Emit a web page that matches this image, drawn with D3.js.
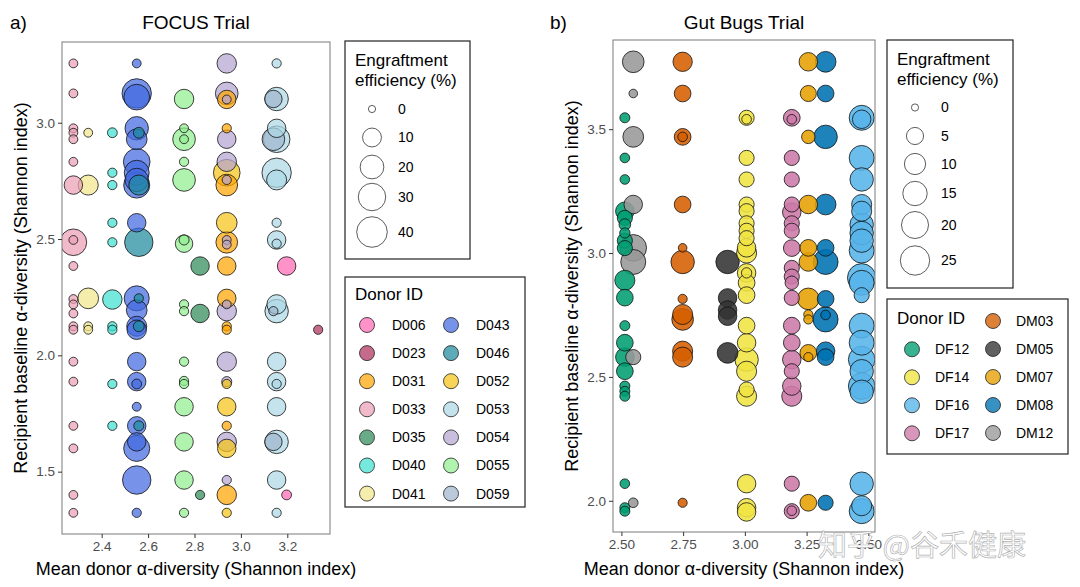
<!DOCTYPE html>
<html lang="en">
<head>
<meta charset="UTF-8">
<title>Engraftment efficiency vs alpha diversity</title>
<script src="https://d3js.org/d3.v7.min.js"></script>
<style>
  body { margin: 0; background: #fff; }
  svg { font-family: "Liberation Sans", Arial, sans-serif; }
  .tick text { fill: #4d4d4d; font-size: 13.5px; }
  .tick line { stroke: #333; }
</style>
</head>
<body>
<div id="chart"></div>
<script>
// ---------- panel a: FOCUS trial ----------
const focusDonors = ["D006", "D023", "D031", "D033", "D035", "D040", "D041",
                     "D043", "D046", "D052", "D053", "D054", "D055", "D059"];
const focusColors = ["#ff69b4", "#b03060", "#ffa500", "#eb9fb6", "#2e8b57", "#40e0d0", "#f0e68c",
                     "#4169e1", "#1f8a9e", "#f5c518", "#add8e6", "#b5a5d3", "#90ee90", "#9fb6cd"];
// mean donor alpha-diversity per donor (x position)
const focusDonorX = [3.197, 3.333, 2.939, 2.278, 2.824, 2.446, 2.342,
                     2.551, 2.560, 2.939, 3.154, 2.939, 2.755, 3.140];
// [recipient baseline diversity, engraftment efficiency %]
const focus_D006 = [[2.384, 9.3], [1.40, 0.5]];
const focus_D023 = [[2.11, 0.3]];
const focus_D031 = [[3.10, 9.3], [2.976, 0.3], [2.732, 15.3], [2.486, 15.3], [2.384, 9.3], [2.245, 9.3],
                    [2.125, 0.3], [2.11, 0.3], [1.697, 0.3], [1.40, 11]];
const focus_D033 = [[3.255, 0.2], [3.126, 0.2], [2.976, 0.2], [2.957, 0.2], [2.929, 0.2], [2.832, 0.2],
                    [2.732, 9.3], [2.486, 27.6], [2.496, 0.2], [2.384, 0.2], [2.242, 0.2], [2.219, 0.2],
                    [2.18, 0.2], [2.125, 0.2], [2.11, 0.2], [1.973, 0.2], [1.887, 0.2], [1.697, 0.2],
                    [1.60, 0.2], [1.40, 0.2], [1.323, 0.2]];
const focus_D035 = [[2.384, 9.3], [2.18, 9.3], [1.40, 0.3]];
const focus_D040 = [[2.957, 0.5], [2.785, 0.3], [2.732, 0.3], [2.57, 0.3], [2.486, 0.3], [2.24, 11],
                    [2.125, 0.3], [2.11, 0.3], [1.877, 0.3], [1.697, 0.3]];
const focus_D041 = [[2.957, 0.2], [2.732, 12.1], [2.245, 13.3], [2.125, 0.2], [2.11, 0.2]];
const focus_D043 = [[3.255, 0.2], [3.126, 36], [3.11, 25], [2.976, 19.3], [2.929, 13.3], [2.832, 27.6],
                    [2.785, 23], [2.754, 19], [2.732, 26], [2.57, 9.3], [2.245, 23.3], [2.194, 13.3],
                    [2.125, 12], [2.11, 11], [1.973, 9.3], [1.887, 9.3], [1.877, 0.5], [1.779, 0.2],
                    [1.697, 9.3], [1.628, 9.3], [1.60, 26], [1.464, 33], [1.323, 0.3]];
const focus_D046 = [[2.957, 1], [2.732, 12.1], [2.486, 32.9], [2.245, 0.3], [2.125, 1], [1.697, 0.6]];
const focus_D052 = [[2.785, 27.6], [2.57, 13.3], [1.877, 0.3], [1.779, 9.3], [1.60, 9.3], [1.323, 0.3]];
const focus_D053 = [[3.255, 0.3], [3.102, 19.3], [2.976, 9.3], [2.929, 27.6], [2.785, 36], [2.754, 12],
                    [2.57, 0.3], [2.496, 9.3], [2.48, 0.3], [2.219, 11], [2.19, 19.3], [1.973, 9.3],
                    [1.887, 9.3], [1.877, 0.3], [1.779, 9.3], [1.628, 19.3], [1.464, 9.3], [1.323, 0.3]];
const focus_D054 = [[3.255, 11], [3.126, 17.5], [3.10, 0.2], [2.929, 9.3], [2.832, 11], [2.754, 0.3],
                    [2.496, 0.2], [2.476, 0.2], [2.219, 0.2], [2.19, 11], [1.973, 11], [1.887, 0.6],
                    [1.628, 11], [1.464, 0.3]];
const focus_D055 = [[3.102, 11], [2.976, 0.2], [2.929, 17.5], [2.929, 0.2], [2.832, 0.3], [2.754, 17.5],
                    [2.496, 0.6], [2.48, 7.7], [2.219, 0.3], [2.19, 0.3], [1.973, 0.3], [1.89, 0.3],
                    [1.877, 0.3], [1.779, 9.3], [1.628, 9.3], [1.464, 9.3], [1.323, 0.3]];
const focus_D059 = [[3.102, 7.7], [2.929, 17.5], [2.19, 0.3], [1.628, 7.7]];
const focusSeries = [focus_D006, focus_D023, focus_D031, focus_D033, focus_D035, focus_D040, focus_D041,
                     focus_D043, focus_D046, focus_D052, focus_D053, focus_D054, focus_D055, focus_D059];
const focusXTicks = [2.4, 2.6, 2.8, 3.0, 3.2];
const focusYTicks = [1.5, 2.0, 2.5, 3.0];
const focusSizeBreaks = [0, 10, 20, 30, 40];

// ---------- panel b: Gut Bugs trial ----------
const gbDonors = ["DF12", "DF14", "DF16", "DF17", "DM03", "DM05", "DM07", "DM08", "DM12"];
const gbColors = ["#009e73", "#f0e442", "#56b4e9", "#cc79a7", "#d55e00", "#333333", "#e69f00", "#0072b2", "#999999"];
const gbDonorX = [2.514, 3.007, 3.473, 3.19, 2.748, 2.93, 3.257, 3.327, 2.548];
const gb_DF12 = [[3.546, 0.4], [3.384, 0.3], [3.297, 0.3], [3.169, 6.5], [3.142, 3.2], [3.115, 1], [3.081, 0.5],
                 [3.05, 3.2], [3.02, 3.2], [2.89, 8.4], [2.82, 4.6], [2.707, 0.4], [2.638, 4.6], [2.58, 6.5],
                 [2.523, 4.6], [2.463, 0.4], [2.442, 0.4], [2.422, 0.4], [2.069, 0.3], [1.972, 0.4], [1.958, 0.4]];
const gb_DF14 = [[3.546, 3.2], [3.54, 0.3], [3.384, 3.2], [3.297, 3.2], [3.196, 3.2], [3.169, 3.2], [3.12, 3.2],
                 [3.09, 3.2], [3.06, 3.2], [3.021, 6.5], [3.0, 8.4], [2.92, 6.5], [2.92, 0.5], [2.88, 4.6],
                 [2.83, 4.6], [2.707, 4.6], [2.638, 6.5], [2.57, 13.4], [2.523, 8.4], [2.449, 3.2], [2.422, 8.4],
                 [2.069, 6.5], [1.972, 6.5], [1.955, 6.5]];
const gb_DF16 = [[3.546, 16], [3.54, 6.5], [3.384, 16], [3.297, 13.4], [3.196, 8.4], [3.169, 8.4], [3.115, 13.4],
                 [3.081, 13.4], [3.05, 13.4], [3.01, 16], [2.90, 22.8], [2.88, 16], [2.83, 3.2], [2.707, 16],
                 [2.638, 16], [2.57, 19], [2.523, 13.4], [2.463, 19], [2.44, 13.4], [2.069, 13.4], [1.98, 8.4],
                 [1.958, 16]];
const gb_DF17 = [[3.546, 4.6], [3.54, 0.3], [3.384, 3.2], [3.297, 3.2], [3.196, 3.2], [3.165, 6.5], [3.12, 3.2],
                 [3.09, 3.2], [3.02, 4.6], [2.94, 3.2], [2.905, 3.2], [2.88, 2], [2.819, 3.2], [2.707, 4.6],
                 [2.638, 4.6], [2.57, 6.5], [2.523, 3.2], [2.463, 6.5], [2.422, 8.4], [2.069, 3.2],
                 [1.958, 3.2], [1.96, 0.3]];
const gb_DM03 = [[3.772, 7.5], [3.644, 4.6], [3.469, 4.6], [3.469, 0.3], [3.196, 4.6], [3.021, 0.1], [2.964, 13.4],
                 [2.815, 0.2], [2.752, 8.4], [2.732, 10.6], [2.604, 8.4], [2.58, 8.4], [1.992, 0.2]];
const gb_DM05 = [[2.964, 13.4], [2.819, 6.5], [2.77, 6.5], [2.745, 6.5], [2.597, 9.3]];
const gb_DM07 = [[3.772, 6.5], [3.644, 4], [3.469, 2], [3.196, 6.5], [3.021, 4.6], [2.964, 6.5], [2.815, 10.6],
                 [2.752, 0.2], [2.732, 0.2], [2.597, 4.6], [2.58, 0.2], [1.992, 4.6]];
const gb_DM08 = [[3.772, 9.3], [3.644, 4.6], [3.469, 13.4], [3.196, 9.3], [3.021, 4.6], [2.964, 16], [2.815, 4.6],
                 [2.732, 16], [2.75, 0.3], [2.604, 6.5], [2.58, 4.6], [1.992, 3.2]];
const gb_DM12 = [[3.772, 10.6], [3.644, 0.1], [3.469, 9.3], [3.196, 6.5], [3.021, 19], [2.964, 16], [2.58, 3.2],
                 [1.992, 0.3]];
const gbSeries = [gb_DF12, gb_DF14, gb_DF16, gb_DF17, gb_DM03, gb_DM05, gb_DM07, gb_DM08, gb_DM12];
const gbXTicks = [2.50, 2.75, 3.00, 3.25, 3.50];
const gbYTicks = [2.0, 2.5, 3.0, 3.5];
const gbSizeBreaks = [0, 5, 10, 15, 20, 25];

const W = 1080, H = 587;
const svg = d3.select("#chart").append("svg")
    .attr("width", W).attr("height", H);

function drawPanel(p) {
    const x = d3.scaleLinear().domain(p.xDomain).range([p.left, p.right]);
    const y = d3.scaleLinear().domain(p.yDomain).range([p.bottom, p.top]);
    const r = d3.scaleSqrt().domain([0, p.sizeMax]).range([3.6, p.rMax]);
    const color = d3.scaleOrdinal().domain(p.donors).range(p.colors);

    // flatten points, biggest first so small ones stay visible
    const pts = [];
    p.series.forEach((s, i) => s.forEach(d => pts.push({donor: p.donors[i], dx: p.donorX[i], base: d[0], eff: d[1]})));
    pts.sort((a, b) => b.eff - a.eff);

    const clipId = "clip-" + p.id;
    svg.append("clipPath").attr("id", clipId)
        .append("rect")
        .attr("x", p.left).attr("y", p.top)
        .attr("width", p.right - p.left).attr("height", p.bottom - p.top);

    svg.append("g").attr("clip-path", `url(#${clipId})`)
        .selectAll("circle")
        .data(pts)
        .join("circle")
        .attr("cx", d => x(d.dx))
        .attr("cy", d => y(d.base))
        .attr("r", d => r(d.eff))
        .attr("fill", d => color(d.donor))
        .attr("fill-opacity", p.alpha)
        .attr("stroke", "#111")
        .attr("stroke-width", 0.8);

    // panel border
    svg.append("rect")
        .attr("x", p.left).attr("y", p.top)
        .attr("width", p.right - p.left).attr("height", p.bottom - p.top)
        .attr("fill", "none").attr("stroke", "#7a7a7a").attr("stroke-width", 1);

    // axes
    const xAxis = svg.append("g")
        .attr("transform", `translate(0,${p.bottom})`)
        .call(d3.axisBottom(x).tickValues(p.xTicks).tickSize(4).tickPadding(3).tickFormat(d3.format(p.xFmt)));
    xAxis.select(".domain").remove();
    const yAxis = svg.append("g")
        .attr("transform", `translate(${p.left},0)`)
        .call(d3.axisLeft(y).tickValues(p.yTicks).tickSize(4).tickPadding(3).tickFormat(d3.format(".1f")));
    yAxis.select(".domain").remove();
    svg.selectAll(".tick text").attr("font-family", null);

    // titles
    svg.append("text").attr("x", p.tagX).attr("y", 29)
        .attr("font-size", 19).attr("fill", "#000").text(p.tag);
    svg.append("text").attr("x", (p.left + p.right) / 2).attr("y", 29)
        .attr("text-anchor", "middle").attr("font-size", 19).attr("fill", "#000").text(p.title);
    svg.append("text").attr("x", (p.left + p.right) / 2).attr("y", 575)
        .attr("text-anchor", "middle").attr("font-size", 18).attr("fill", "#000")
        .text("Mean donor α-diversity (Shannon index)");
    svg.append("text")
        .attr("transform", `translate(${p.yTitleX},${(p.top + p.bottom) / 2}) rotate(-90)`)
        .attr("text-anchor", "middle").attr("font-size", 18).attr("fill", "#000")
        .text("Recipient baseline α-diversity (Shannon index)");

    // size legend
    const sl = p.sizeLegend;
    svg.append("rect").attr("x", sl.x0).attr("y", sl.y0).attr("width", sl.w).attr("height", sl.h)
        .attr("fill", "#fff").attr("stroke", "#222").attr("stroke-width", 1.2);
    const st = svg.append("text").attr("x", sl.x0 + 10).attr("y", sl.y0 + 25)
        .attr("font-size", 17).attr("fill", "#000");
    st.append("tspan").text("Engraftment");
    st.append("tspan").attr("x", sl.x0 + 10).attr("dy", 19.5).text("efficiency (%)");
    const sItems = svg.append("g").selectAll("g")
        .data(p.sizeBreaks).join("g")
        .attr("transform", (d, i) => `translate(0,${sl.rows[i]})`);
    sItems.append("circle").attr("cx", sl.cx).attr("r", d => r(d))
        .attr("fill", "#fff").attr("stroke", "#333").attr("stroke-width", 0.8);
    sItems.append("text").attr("x", sl.tx).attr("dy", "0.35em")
        .attr("font-size", 14).attr("fill", "#000").text(d => d);

    // donor legend
    const dl = p.donorLegend;
    svg.append("rect").attr("x", dl.x0).attr("y", dl.y0).attr("width", dl.w).attr("height", dl.h)
        .attr("fill", "#fff").attr("stroke", "#222").attr("stroke-width", 1.2);
    svg.append("text").attr("x", dl.x0 + 10).attr("y", dl.titleY)
        .attr("font-size", 17).attr("fill", "#000").text("Donor ID");
    const dItems = svg.append("g").selectAll("g")
        .data(p.donors).join("g")
        .attr("transform", (d, i) => {
            const pos = dl.pos(i);
            return `translate(${pos[0]},${pos[1]})`;
        });
    dItems.append("circle").attr("r", 7.5)
        .attr("fill", d => color(d)).attr("fill-opacity", p.legendAlpha)
        .attr("stroke", "#222").attr("stroke-width", 0.8);
    dItems.append("text").attr("x", dl.labelDx).attr("dy", "0.35em")
        .attr("font-size", 14).attr("fill", "#000").text(d => d);
}

drawPanel({
    id: "a", tag: "a)", tagX: 10, title: "FOCUS Trial",
    left: 62, right: 330, top: 42, bottom: 534,
    xDomain: [2.229, 3.384], yDomain: [1.232, 3.347],
    xTicks: focusXTicks, yTicks: focusYTicks, xFmt: ".1f",
    donors: focusDonors, colors: focusColors, donorX: focusDonorX, series: focusSeries,
    sizeMax: 40, rMax: 15.3, sizeBreaks: focusSizeBreaks, alpha: 0.72, legendAlpha: 0.72,
    yTitleX: 27,
    sizeLegend: {x0: 345, y0: 41, w: 125, h: 218, cx: 372, tx: 398,
                 rows: [109, 137.5, 167, 197, 232]},
    donorLegend: {x0: 345, y0: 277, w: 180, h: 230, titleY: 300, labelDx: 25,
                  pos: i => [i < 7 ? 367 : 451, 325 + (i % 7) * 28.1]}
});

drawPanel({
    id: "b", tag: "b)", tagX: 550, title: "Gut Bugs Trial",
    left: 613, right: 875, top: 40, bottom: 532,
    xDomain: [2.466, 3.527], yDomain: [1.874, 3.86],
    xTicks: gbXTicks, yTicks: gbYTicks, xFmt: ".2f",
    donors: gbDonors, colors: gbColors, donorX: gbDonorX, series: gbSeries,
    sizeMax: 25, rMax: 14.7, sizeBreaks: gbSizeBreaks, alpha: 0.88, legendAlpha: 0.78,
    yTitleX: 578,
    sizeLegend: {x0: 887, y0: 40, w: 126, h: 248, cx: 915, tx: 941,
                 rows: [107.5, 136, 164, 193.5, 225, 260.5]},
    donorLegend: {x0: 887, y0: 299, w: 181, h: 155, titleY: 324, labelDx: 23,
                  pos: i => i < 4 ? [912, 349.3 + i * 28] : [993, 321 + (i - 4) * 28]}
});

// watermark
svg.append("text").attr("x", 818).attr("y", 556)
    .attr("font-family", "'Noto Sans CJK SC', sans-serif").attr("font-size", 29)
    .attr("fill", "#fff").attr("fill-opacity", 0.85)
    .attr("stroke", "#a0a0a0").attr("stroke-width", 0.7).attr("stroke-opacity", 0.8)
    .text("知乎 @谷禾健康");
</script>
</body>
</html>
